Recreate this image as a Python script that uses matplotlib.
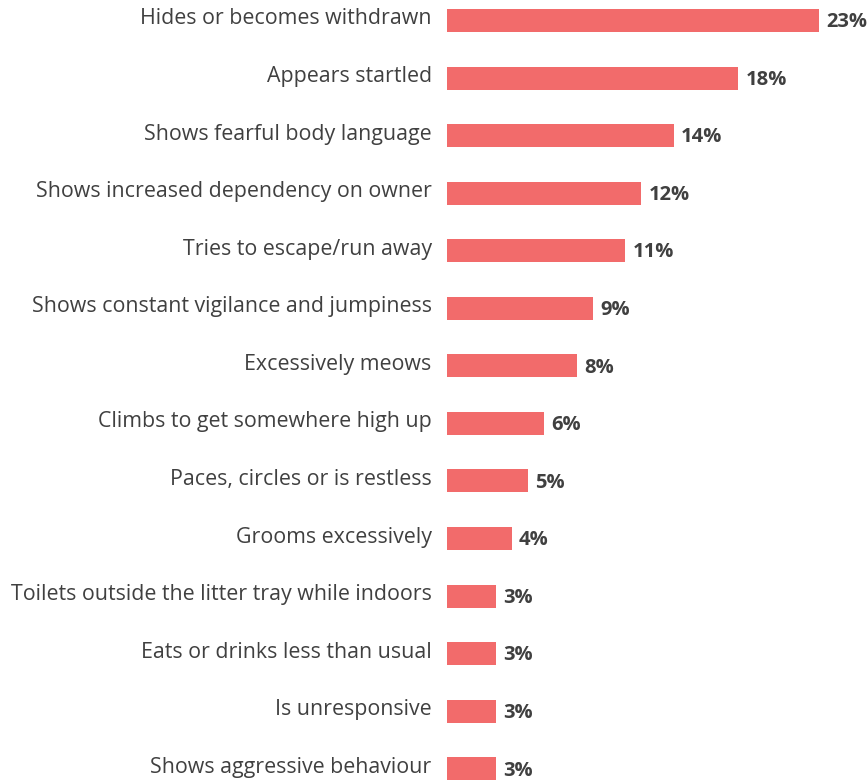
import matplotlib.pyplot as plt
import matplotlib.transforms as mtransforms

# Comportamientos observados y porcentaje
etiquetas = [
    'Hides or becomes withdrawn',
    'Appears startled',
    'Shows fearful body language',
    'Shows increased dependency on owner',
    'Tries to escape/run away',
    'Shows constant vigilance and jumpiness',
    'Excessively meows',
    'Climbs to get somewhere high up',
    'Paces, circles or is restless',
    'Grooms excessively',
    'Toilets outside the litter tray while indoors',
    'Eats or drinks less than usual',
    'Is unresponsive',
    'Shows aggressive behaviour',
]
valores = [23, 18, 14, 12, 11, 9, 8, 6, 5, 4, 3, 3, 3, 3]

color_barra = '#F26B6B'
color_texto = '#404040'

fig = plt.figure(figsize=(8.68, 7.8), dpi=100)
ax = fig.add_axes([447 / 868, 0, 1 - 447 / 868, 1])

y = list(range(len(valores)))
ax.barh(y, valores, height=0.4, color=color_barra)

for i, v in enumerate(valores):
    ax.text(v + 0.45, i + 0.03, f'{v}%', va='center', ha='left', fontsize=14.5,
            fontweight='bold', color=color_texto, family='Open Sans')

ax.set_xlim(0, 26)
ax.set_ylim(13.195, -0.356)
ax.set_yticks(y)
ax.set_yticklabels(etiquetas, fontsize=15.4, color=color_texto, family='Open Sans')
ax.tick_params(axis='y', length=0, pad=11)
ax.set_xticks([])
for s in ax.spines.values():
    s.set_visible(False)

# subir un poco las etiquetas para que no se corte la última
desplazar = mtransforms.ScaledTranslation(0, 4 / 100, fig.dpi_scale_trans)
for lbl in ax.get_yticklabels():
    lbl.set_transform(lbl.get_transform() + desplazar)

fig.savefig('out.png', dpi=100)
